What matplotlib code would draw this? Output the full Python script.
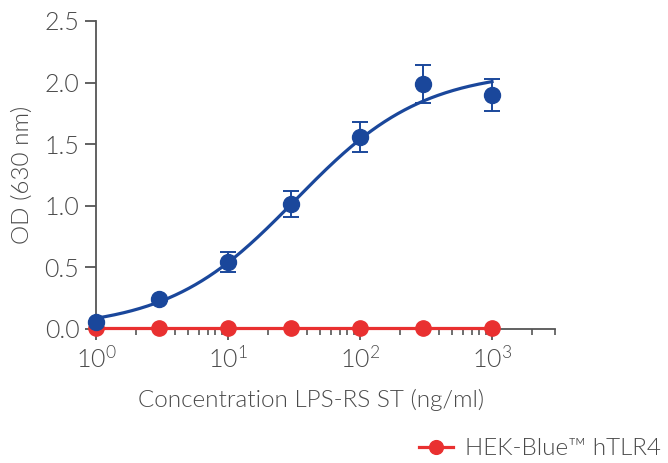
import numpy as np
import matplotlib
matplotlib.use("Agg")
import matplotlib.pyplot as plt
from matplotlib.ticker import LogLocator, NullFormatter, FixedLocator

# Data
conc = [1, 3, 10, 30, 100, 300, 1000]
lps_rs_od = [0.055, 0.245, 0.545, 1.015, 1.56, 1.99, 1.90]
lps_rs_err = [0.0, 0.0, 0.08, 0.105, 0.12, 0.155, 0.13]
htlr4_od = [0.01, 0.01, 0.01, 0.01, 0.01, 0.01, 0.01]
# 4PL fit parameters (bottom, top, EC50, hill)
fit_bottom, fit_top, fit_ec50, fit_hill = 0.0, 2.1, 32.6, 0.9
ytick_vals = [0.0, 0.5, 1.0, 1.5, 2.0, 2.5]
xtick_vals = [1, 10, 100, 1000]
xtick_labels = ["10$^{0}$", "10$^{1}$", "10$^{2}$", "10$^{3}$"]
legend_label = "HEK-Blue™ hTLR4"

blue = "#1a479b"
red = "#e93030"
gray = "#4a4a4a"

plt.rcParams['font.family'] = ['Lato', 'DejaVu Sans']
plt.rcParams['font.weight'] = 300
plt.rcParams['axes.labelweight'] = 300
plt.rcParams['mathtext.fontset'] = 'custom'
plt.rcParams['mathtext.rm'] = 'Lato:weight=300'
plt.rcParams['mathtext.it'] = 'Lato:weight=300'
plt.rcParams['mathtext.default'] = 'rm'

fig = plt.figure(figsize=(6.68, 4.63), dpi=100)
ax = fig.add_axes([96/668, 1-329/463, (555-96)/668, (329-21)/463])

xs = np.logspace(0, 3, 300)
ys = fit_bottom + (fit_top - fit_bottom) / (1 + (fit_ec50 / xs) ** fit_hill)
ax.plot(xs, ys, color=blue, lw=2.3, zorder=4, clip_on=False)
ax.errorbar(conc, lps_rs_od, yerr=lps_rs_err, fmt='o', color=blue, ms=11.5,
            ecolor=blue, elinewidth=1.4, capsize=5.5, capthick=1.4, zorder=5, clip_on=False)
ax.plot(conc, htlr4_od, '-o', color=red, lw=2.3, ms=11, zorder=3, clip_on=False,
        label=legend_label)

ax.set_xscale('log')
ax.set_xlim(1, 3000)
ax.set_ylim(0, 2.5)
ax.xaxis.set_major_locator(FixedLocator(xtick_vals))
ax.set_xticklabels(xtick_labels)
ax.xaxis.set_minor_locator(LogLocator(base=10, subs=np.arange(2, 10), numticks=20))
ax.xaxis.set_minor_formatter(NullFormatter())
ax.set_yticks(ytick_vals)
ax.set_yticklabels([f"{v:.1f}" for v in ytick_vals])

for s in ['top', 'right']:
    ax.spines[s].set_visible(False)
for s in ['left', 'bottom']:
    ax.spines[s].set_color('#555555')
    ax.spines[s].set_linewidth(1.3)
    ax.spines[s].set_zorder(2)

ax.tick_params(axis='both', which='major', length=8, width=1.3, color='#555555',
               labelsize=18, labelcolor=gray, pad=4)
ax.tick_params(axis='x', which='minor', length=4.5, width=1.2, color='#555555')

ax.set_xlabel("Concentration LPS-RS ST (ng/ml)", fontsize=17.5, color=gray, labelpad=12)
ax.xaxis.set_label_coords((311-96)/459, -0.195)
ax.set_ylabel("OD (630 nm)", fontsize=17.5, color=gray, labelpad=8)

fig.legend(loc='lower right', bbox_to_anchor=(0.995, 0.0), frameon=False, fontsize=17.5,
           labelcolor=gray, handlelength=1.4, handletextpad=0.5, borderaxespad=0.0,
           borderpad=0.15, markerscale=0.9)

fig.savefig("out.png", dpi=100)
